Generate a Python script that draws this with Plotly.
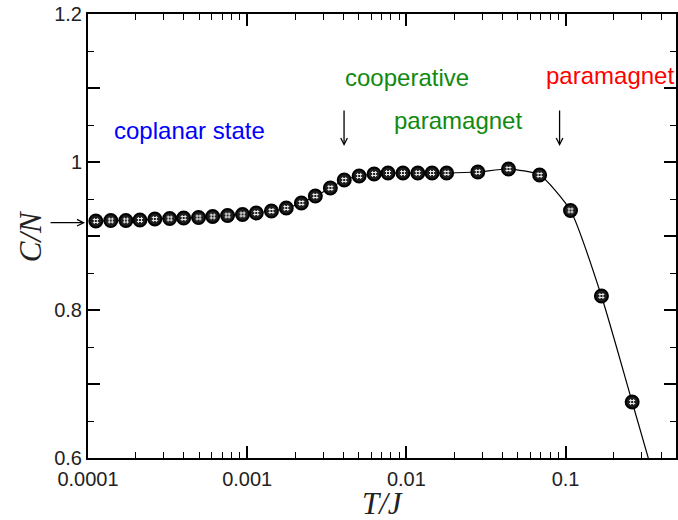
import numpy as np
import plotly.graph_objects as go

# Data
T = [1.12e-4, 1.39e-4, 1.73e-4, 2.12e-4, 2.63e-4, 3.26e-4, 3.99e-4, 4.95e-4,
     6.07e-4, 7.53e-4, 9.35e-4, 1.14e-3, 1.42e-3, 1.76e-3, 2.19e-3, 2.68e-3,
     3.33e-3, 4.07e-3, 5.05e-3, 6.27e-3, 7.67e-3, 9.52e-3, 1.18e-2, 1.45e-2,
     1.79e-2, 2.81e-2, 4.38e-2, 6.87e-2, 0.1074, 0.168, 0.262]
C = [0.9203, 0.9209, 0.9209, 0.9216, 0.9230, 0.9236, 0.9243, 0.9250,
     0.9264, 0.9277, 0.9291, 0.9311, 0.9338, 0.9378, 0.9446, 0.9540,
     0.9649, 0.9757, 0.9811, 0.9838, 0.9851, 0.9851, 0.9851, 0.9851,
     0.9851, 0.9865, 0.9905, 0.9824, 0.9345, 0.8189, 0.6757]

# Continuation of the solid curve beyond the last point
curve_T = T + [0.38]
curve_C = C + [0.555]

y_ticks = [0.6, 0.7, 0.8, 0.9, 1.0, 1.1, 1.2]
y_ticktext = ["0.6", "", "0.8", "", "1", "", "1.2"]
x_ticks = [1e-4, 1e-3, 1e-2, 1e-1]
x_ticktext = ["0.0001", "0.001", "0.01", "0.1"]
x_minor = [m * 10.0 ** e for e in range(-4, 0) for m in range(2, 10)]

labels = [
    ("coplanar state", 4.35e-4, 1.042, "#0000ff"),
    ("cooperative", 1.01e-2, 1.1145, "#108a10"),
    ("paramagnet", 2.10e-2, 1.0566, "#108a10"),
    ("paramagnet", 0.191, 1.117, "#ff0000"),
]
down_arrows_T = [4.06e-3, 9.17e-2]

fig = go.Figure()
fig.add_trace(go.Scatter(x=curve_T, y=curve_C, mode="lines",
                         line=dict(color="black", width=1.2, shape="spline", smoothing=0.6),
                         hoverinfo="skip", showlegend=False))
fig.add_trace(go.Scatter(x=T, y=C, mode="markers",
                         marker=dict(symbol="circle", size=13, color="#1e1e1e",
                                     line=dict(color="black", width=2)),
                         showlegend=False))
fig.add_trace(go.Scatter(x=T, y=C, mode="markers",
                         marker=dict(symbol="hash-open", size=6, color="#e8e8e8",
                                     line=dict(color="#e8e8e8", width=1)),
                         showlegend=False, hoverinfo="skip"))

ann = []
for txt, tx, ty, col in labels:
    ann.append(dict(x=np.log10(tx), y=ty, xref="x", yref="y", text=txt, showarrow=False,
                    font=dict(family="Liberation Sans, Arial, sans-serif", size=24, color=col),
                    xanchor="center", yanchor="middle"))
for tx in down_arrows_T:
    ann.append(dict(x=np.log10(tx), y=1.0216, xref="x", yref="y", text="", showarrow=True,
                    ax=0, ay=-37, arrowhead=5, arrowsize=1, arrowwidth=1.3, arrowcolor="black"))
ann.append(dict(x=-0.005, y=0.918, xref="paper", yref="y", text="", showarrow=True,
                ax=-36, ay=0, arrowhead=5, arrowsize=1, arrowwidth=1.3, arrowcolor="black"))
ann.append(dict(x=-58 / 590, y=0.5, xref="paper", yref="paper", text="<i>C/N</i>",
                showarrow=False, textangle=-90,
                font=dict(family="Liberation Serif, Times New Roman, serif", size=31, color="#222"),
                xanchor="center", yanchor="middle"))
ann.append(dict(x=0.5, y=-45 / 444, xref="paper", yref="paper", text="<i>T/J</i>",
                showarrow=False,
                font=dict(family="Liberation Serif, Times New Roman, serif", size=31, color="#222"),
                xanchor="center", yanchor="middle"))

fig.update_layout(
    width=678, height=520,
    margin=dict(l=88, r=0, t=14, b=62),
    plot_bgcolor="white", paper_bgcolor="white",
    annotations=ann,
    font=dict(family="Liberation Sans, Arial, sans-serif", size=20, color="#222"),
)
fig.update_xaxes(type="log", range=[-4, np.log10(0.494)],
                 tickmode="array", tickvals=x_ticks, ticktext=x_ticktext,
                 ticks="inside", ticklen=12, tickwidth=1.5, tickcolor="black",
                 ticklabelstandoff=2,
                 showline=True, linewidth=2, linecolor="black", mirror="allticks",
                 showgrid=False, zeroline=False,
                 minor=dict(tickmode="array", tickvals=x_minor, ticks="inside",
                            ticklen=6, tickwidth=1.2, tickcolor="black", showgrid=False))
fig.update_yaxes(range=[0.6, 1.2], tickmode="array", tickvals=y_ticks, ticktext=y_ticktext,
                 ticks="inside", ticklen=12, tickwidth=1.5, tickcolor="black",
                 showline=True, linewidth=2, linecolor="black", mirror="allticks",
                 showgrid=False, zeroline=False,
                 minor=dict(tick0=0.6, dtick=0.05, ticks="inside", ticklen=6,
                            tickwidth=1.2, tickcolor="black", showgrid=False))

fig.write_html("out.html")
